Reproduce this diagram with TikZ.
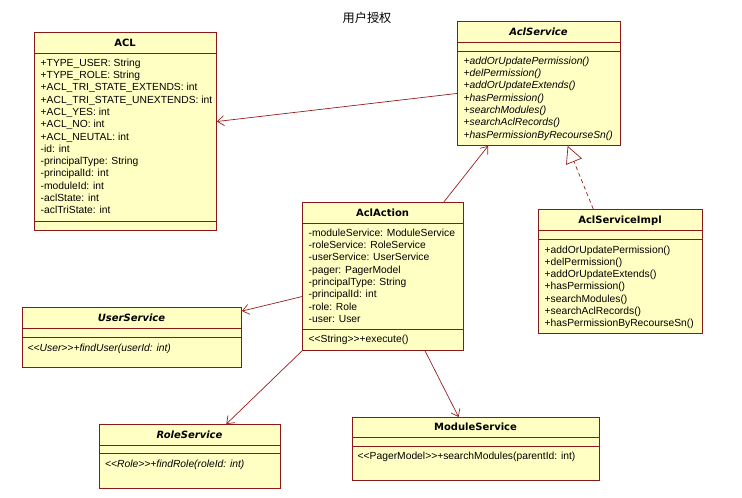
\documentclass[tikz,border=0pt]{standalone}
\usepackage{fontspec}
\setmainfont{Liberation Sans}[Ligatures=TeXOff]
\newfontfamily\cjk{Noto Sans CJK SC}
\newfontfamily\hdfont{DejaVu Sans}
\usetikzlibrary{arrows.meta,calc}
\definecolor{boxfill}{RGB}{255,255,196}
\definecolor{boxline}{RGB}{140,25,25}
\definecolor{conline}{RGB}{150,30,30}
\begin{document}
\begin{tikzpicture}[x=1pt,y=-1pt,
 box/.style={draw=boxline, fill=boxfill, line width=0.9pt, inner sep=0pt, anchor=north west},
 sepline/.style={draw=boxline, line width=0.9pt},
 txt/.style={anchor=base west, inner sep=0pt, font=\fontsize{10.3}{12}\selectfont},
 itxt/.style={anchor=base west, inner sep=0pt, font=\fontsize{10.3}{12}\selectfont\itshape},
 hd/.style={anchor=base, inner sep=0pt, font=\hdfont\bfseries\fontsize{10}{12}\selectfont},
 ihd/.style={anchor=base, inner sep=0pt, font=\hdfont\bfseries\itshape\fontsize{10}{12}\selectfont},
 conn/.style={draw=conline, line width=0.7pt},
 dep/.style={conn, -{Straight Barb[length=6.5pt,width=10pt]}},
 real/.style={conn, dash pattern=on 4pt off 3pt, -{Triangle[open,length=17pt,width=17pt,fill=white]}},
]
\useasboundingbox (0,0) rectangle (742,498);

\node[inner sep=0pt, font=\cjk\fontsize{12.2}{14}\selectfont] (title) at (367,18) {用户授权};

% ACL
\node[box, minimum width=182pt, minimum height=198pt] (acl) at (34,32) {};
\draw[sepline] (34,53) -- (216,53);
\draw[sepline] (34,221) -- (216,221);
\node[hd] (acl-t) at (125,46.1) {ACL};
\foreach \t [count=\i from 0] in {+TYPE\_USER: String,+TYPE\_ROLE: String,+ACL\_TRI\_STATE\_EXTENDS: int,+ACL\_TRI\_STATE\_UNEXTENDS: int,+ACL\_YES: int,+ACL\_NO: int,+ACL\_NEUTAL: int,-id: int,-principalType: String,-principalId: int,-moduleId: int,-aclState: int,-aclTriState: int}
  \node[txt] (acl-a\i) at (40.5,{66.4+12.27*\i}) {\t};

% AclService
\node[box, minimum width=163pt, minimum height=124pt] (svc) at (457,21) {};
\draw[sepline] (457,42) -- (620,42);
\draw[sepline] (457,51) -- (620,51);
\node[ihd] (svc-t) at (538.5,35.1) {AclService};
\foreach \t [count=\i from 0] in {+addOrUpdatePermission(),+delPermission(),+addOrUpdateExtends(),+hasPermission(),+searchModules(),+searchAclRecords(),+hasPermissionByRecourseSn()}
  \node[itxt] (svc-m\i) at (463.5,{64.4+12.27*\i}) {\t};

% AclAction
\node[box, minimum width=161pt, minimum height=148pt] (act) at (302,202) {};
\draw[sepline] (302,223) -- (463,223);
\draw[sepline] (302,329) -- (463,329);
\node[hd] (act-t) at (382.5,216.1) {AclAction};
\foreach \t [count=\i from 0] in {-moduleService: ModuleService,-roleService: RoleService,-userService: UserService,-pager: PagerModel,-principalType: String,-principalId: int,-role: Role,-user: User}
  \node[txt] (act-a\i) at (308.5,{236.4+12.27*\i}) {\t};
\node[txt] (act-m0) at (308.5,342) {<<String>>+execute()};

% AclServiceImpl
\node[box, minimum width=164pt, minimum height=124pt] (impl) at (538,209) {};
\draw[sepline] (538,230) -- (702,230);
\draw[sepline] (538,239) -- (702,239);
\node[hd] (impl-t) at (620,223.1) {AclServiceImpl};
\foreach \t [count=\i from 0] in {+addOrUpdatePermission(),+delPermission(),+addOrUpdateExtends(),+hasPermission(),+searchModules(),+searchAclRecords(),+hasPermissionByRecourseSn()}
  \node[txt] (impl-m\i) at (544.5,{253+12.27*\i}) {\t};

% UserService
\node[box, minimum width=219pt, minimum height=60pt] (usr) at (22,307) {};
\draw[sepline] (22,328) -- (241,328);
\draw[sepline] (22,337) -- (241,337);
\node[ihd] (usr-t) at (131.5,321.1) {UserService};
\node[itxt] (usr-m0) at (27.5,351) {<<User>>+findUser(userId: int)};

% RoleService
\node[box, minimum width=181pt, minimum height=64pt] (role) at (99,424) {};
\draw[sepline] (99,445) -- (280,445);
\draw[sepline] (99,453) -- (280,453);
\node[ihd] (role-t) at (189.5,438.1) {RoleService};
\node[itxt] (role-m0) at (105,467) {<<Role>>+findRole(roleId: int)};

% ModuleService
\node[box, minimum width=247pt, minimum height=63pt] (mod) at (352,417) {};
\draw[sepline] (352,437) -- (599,437);
\draw[sepline] (352,446) -- (599,446);
\node[hd] (mod-t) at (475.5,430.6) {ModuleService};
\node[txt] (mod-m0) at (357.5,459.7) {<<PagerModel>>+searchModules(parentId: int)};

% connectors
\draw[dep] ($(svc.north west)!0.58!(svc.south west)$) -- ($(acl.north east)!0.45!(acl.south east)$);
\draw[dep] ($(act.north west)!0.876!(act.north east)$) -- ($(svc.south west)!0.19!(svc.south east)$);
\draw[real] ($(impl.north west)!0.335!(impl.north east)$) -- ($(svc.south west)!0.675!(svc.south east)$);
\draw[dep] ($(act.north west)!0.635!(act.south west)$) -- ($(usr.north east)!0.067!(usr.south east)$);
\draw[dep] (act.south west) -- ($(role.north west)!0.70!(role.north east)$);
\draw[dep] ($(act.south west)!0.76!(act.south east)$) -- ($(mod.north west)!0.43!(mod.north east)$);
\end{tikzpicture}
\end{document}
